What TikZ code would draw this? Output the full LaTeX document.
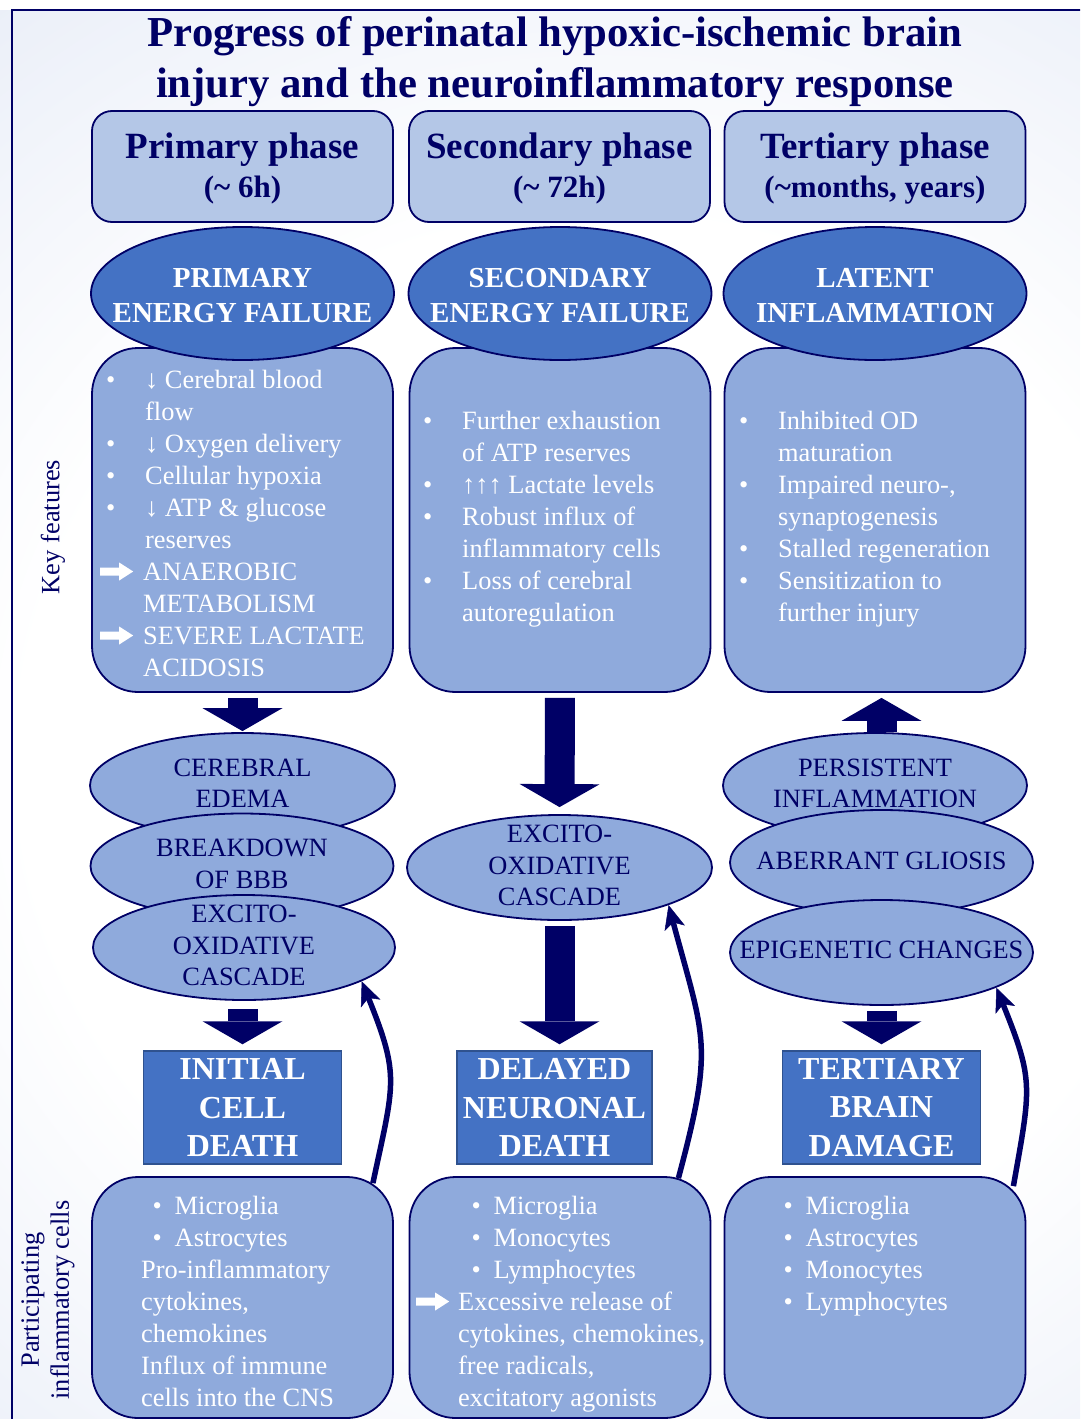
\documentclass[tikz,border=0pt]{standalone}
\usepackage{fontspec}
\setmainfont{Liberation Serif}
\usetikzlibrary{positioning,shapes.geometric,arrows.meta,calc}
\definecolor{ink}{HTML}{000066}
\definecolor{deep}{HTML}{4472C4}
\definecolor{pale}{HTML}{8FAADC}
\definecolor{phasebg}{HTML}{B4C7E7}
\definecolor{rectline}{HTML}{2F528F}
\definecolor{bglight}{HTML}{DEE5F4}
\definecolor{bgmid}{HTML}{C3D2EC}
\definecolor{bgout}{HTML}{8FAADC}
\pgfdeclareradialshading{bgglow}{\pgfpoint{0bp}{0bp}}{color(0bp)=(white); color(18bp)=(white); color(40bp)=(bglight); color(49bp)=(bgmid); color(60bp)=(bgout); color(100bp)=(bgout)}
% white block arrow inside the lists
\newcommand\warr{\tikz[baseline=-8.5pt]\fill[white] (0pt,-4pt) -- (19pt,-4pt) -- (19pt,-9pt) -- (33pt,0pt) -- (19pt,9pt) -- (19pt,4pt) -- (0pt,4pt) -- cycle;}
\newcommand\kfb[1]{\makebox[45pt][l]{\hspace*{6pt}\textbullet}#1}
\newcommand\kfi[2][45pt]{\hspace*{#1}#2}
\newcommand\kfa[1]{\makebox[43pt][l]{\warr}#1}
\newcommand\clb[2][0pt]{\hspace*{#1}\makebox[22pt][l]{\textbullet}#2}
\tikzset{
  phasebox/.style={draw=ink, line width=1.8pt, rounded corners=20pt, fill=phasebg, minimum width=301pt, minimum height=111pt, inner sep=0pt, align=center, text=ink, font=\bfseries\fontsize{37}{39}\selectfont},
  stage/.style={ellipse, draw=ink, line width=1.8pt, fill=deep, minimum width=303pt, minimum height=133pt, inner sep=0pt},
  stagetext/.style={text=white, align=center, inner sep=0pt, font=\bfseries\fontsize{29}{35}\selectfont},
  featbox/.style={draw=ink, line width=1.8pt, rounded corners=46pt, fill=pale, minimum width=301pt, minimum height=344pt, inner sep=0pt},
  event/.style={ellipse, draw=ink, line width=1.8pt, fill=pale, minimum width=304pt, minimum height=105pt, inner sep=0pt},
  evtext/.style={text=ink, align=center, inner sep=0pt, font=\fontsize{26.4}{31.5}\selectfont},
  outcome/.style={draw=rectline, line width=1.5pt, fill=deep, minimum width=198pt, minimum height=113pt, inner sep=0pt, text=white, align=center, font=\bfseries\fontsize{32}{38.5}\selectfont},
  % anchored at the baseline of the last line
  listtext/.style={anchor=base west, inner sep=0pt, text=white, align=left, font=\fontsize{26.4}{32}\selectfont},
  sidelab/.style={rotate=90, text=ink, align=center, inner sep=0pt, font=\fontsize{26.4}{30}\selectfont},
  flow/.style={draw=ink, line width=30pt, -{Triangle[length=23pt, width=80pt, line width=0pt]}},
  feedback/.style={draw=ink, line width=5.5pt, -{Stealth[length=24pt, width=21pt, inset=6pt, line width=0.5pt]}}}

\begin{document}
\begin{tikzpicture}[x=1pt, y=-1pt]
\clip (0,0) rectangle (1080,1419);
\shade[shading=bgglow] (-200,10) rectangle (1400,1510);
\draw[ink, line width=2.5pt] (12,10) rectangle (1100,1440);
\node[text=ink, align=center, font=\bfseries\fontsize{42.7}{51}\selectfont] (title) at (555,62) {Progress of perinatal hypoxic-ischemic brain\\injury and the neuroinflammatory response};
% phases
\node[phasebox] (ph1) at (242.5,166.5) {\rule{0pt}{29pt}Primary phase\\{\fontsize{31}{39}\selectfont (\textasciitilde\ 6h)}};
\node[phasebox] (ph2) at (559.5,166.5) {\rule{0pt}{29pt}Secondary phase\\{\fontsize{31}{39}\selectfont (\textasciitilde\ 72h)}};
\node[phasebox] (ph3) at (875,166.5) {\rule{0pt}{29pt}Tertiary phase\\{\fontsize{31}{39}\selectfont (\textasciitilde months, years)}};
% key features and energy failure
\foreach \c/\x in {1/242.5, 2/560, 3/875} {
  \node[featbox] (kf\c) at (\x,520) {};
  \node[stage] (st\c) at (\x,293.5) {};}
\node[stagetext] at ([yshift=-2pt]st1.center) {PRIMARY\\ENERGY FAILURE};
\node[stagetext] at ([yshift=-2pt]st2.center) {SECONDARY\\ENERGY FAILURE};
\node[stagetext] at ([yshift=-2pt]st3.center) {LATENT\\INFLAMMATION};
\node[listtext] (kft1) at (100,676) {\kfb{↓ Cerebral blood}\\\kfi{flow}\\\kfb{↓ Oxygen delivery}\\\kfb{Cellular hypoxia}\\\kfb{↓ ATP \& glucose}\\\kfi{reserves}\\\kfa{ANAEROBIC}\\\kfi[43pt]{METABOLISM}\\\kfa{SEVERE LACTATE}\\\kfi[43pt]{ACIDOSIS}};
\node[listtext] (kft2) at (417,621) {\kfb{Further exhaustion}\\\kfi{of ATP reserves}\\\kfb{↑↑↑ Lactate levels}\\\kfb{Robust influx of}\\\kfi{inflammatory cells}\\\kfb{Loss of cerebral}\\\kfi{autoregulation}};
\node[listtext] (kft3) at (733,621) {\kfb{Inhibited OD}\\\kfi{maturation}\\\kfb{Impaired neuro-,}\\\kfi{synaptogenesis}\\\kfb{Stalled regeneration}\\\kfb{Sensitization to}\\\kfi{further injury}};
% events
\node[event, minimum width=305pt] (edema) at (242.5,785.5) {};
\node[evtext] at ([yshift=2pt]edema.center) {CEREBRAL\\EDEMA};
\node[event, minimum width=303pt] (bbb) at (242,866) {};
\node[evtext] at ([yshift=2pt]bbb.center) {BREAKDOWN\\OF BBB};
\node[event, minimum width=302pt] (exc1) at (244,947.5) {};
\node[evtext] at ([yshift=2pt]exc1.center) {EXCITO-\\OXIDATIVE\\CASCADE};
\node[event, minimum width=305pt] (exc2) at (559.5,867.5) {};
\node[evtext] at ([yshift=2pt]exc2.center) {EXCITO-\\OXIDATIVE\\CASCADE};
\node[event] (persist) at (875,785.5) {};
\node[evtext] at ([yshift=2pt]persist.center) {PERSISTENT\\INFLAMMATION};
\node[event, minimum width=303pt] (gliosis) at (881.5,862.5) {};
\node[evtext] at ([yshift=2pt]gliosis.center) {ABERRANT GLIOSIS};
\node[event, minimum width=303pt] (epigen) at (881.5,952.5) {};
\node[evtext] at ([yshift=3pt]epigen.center) {EPIGENETIC CHANGES};
% cell death
\node[outcome] (out1) at (242.5,1107.5) {INITIAL\\CELL\\DEATH};
\node[outcome, minimum width=195pt] (out2) at (554.5,1107.5) {DELAYED\\NEURONAL\\DEATH};
\node[outcome] (out3) at (881.5,1107.5) {TERTIARY\\BRAIN\\DAMAGE};
% inflammatory cells
\foreach \c/\x in {1/242.5, 2/560, 3/875}
  \node[featbox, minimum height=241pt] (cells\c) at (\x,1297.5) {};
\node[listtext] (cl1) at (141,1406) {\clb[11.5pt]{Microglia}\\\clb[11.5pt]{Astrocytes}\\Pro-inflammatory\\cytokines,\\chemokines\\Influx of immune\\cells into the CNS};
\node[listtext] (cl2) at (416,1406) {\clb[55.4pt]{Microglia}\\\clb[55.4pt]{Monocytes}\\\clb[55.4pt]{Lymphocytes}\\\makebox[42pt][l]{\warr}Excessive release of\\\kfi[42pt]{cytokines, chemokines,}\\\kfi[42pt]{free radicals,}\\\kfi[42pt]{excitatory agonists}};
\node[listtext] (cl3) at (783.4,1310) {\clb[0pt]{Microglia}\\\clb[0pt]{Astrocytes}\\\clb[0pt]{Monocytes}\\\clb[0pt]{Lymphocytes}};
\node[sidelab] (keylab) at (53,527) {Key features};
\node[sidelab] (celllab) at (48,1300) {Participating\\inflammatory cells};
% arrows
\draw[flow, shorten <=5pt, shorten >=1pt] (kf1.south) -- (edema.north);
\draw[flow, shorten <=8pt, shorten >=6pt] (exc1.south -| out1) -- (out1.north);
\draw[flow, shorten <=5pt, shorten >=7pt] (kf2.south) -- (exc2.north);
\draw[flow, shorten <=5pt, shorten >=6pt] (exc2.south) -- (exc2.south |- out2.north);
\draw[flow, shorten <=0pt, shorten >=5pt] (persist.north -| out3) -- (kf3.south -| out3);
\draw[flow, shorten <=5pt, shorten >=6pt] (epigen.south -| out3) -- (out3.north);
\draw[feedback] ([xshift=-21pt,yshift=-7pt]cells1.north east) to[out=78, in=-68, looseness=1.3] (exc1.-16);
\draw[feedback] ([xshift=-33pt,yshift=-2pt]cells2.north east) to[out=75, in=-75, looseness=1.3] (exc2.-19);
\draw[feedback] ([xshift=-13pt,yshift=-10pt]cells3.north east) to[out=80, in=-68, looseness=1.3] (epigen.-17);
\end{tikzpicture}
\end{document}
